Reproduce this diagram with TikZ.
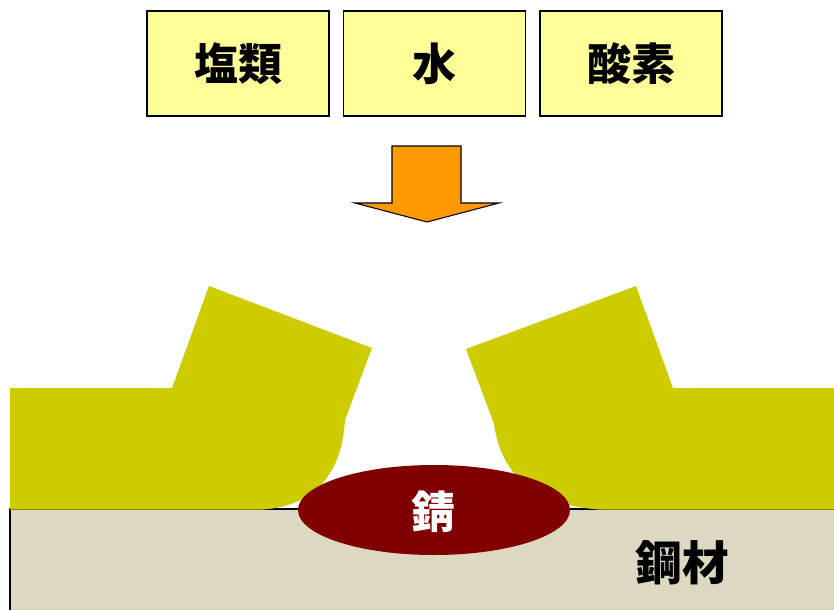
\documentclass[tikz,border=0pt]{standalone}
\usepackage{fontspec}
\newfontfamily\cjk{Noto Sans CJK JP}
\definecolor{boxfill}{HTML}{FFFF99}
\definecolor{arrowfill}{HTML}{FF9900}
\definecolor{coat}{HTML}{CCCC00}
\definecolor{steel}{HTML}{DDD8C2}
\definecolor{rust}{HTML}{800000}
\begin{document}
\begin{tikzpicture}[x=0.75pt,y=-0.75pt,
  factor/.style={draw=black,line width=0.9pt,fill=boxfill,minimum width=182*0.75pt,
    minimum height=105*0.75pt,inner sep=0pt,font=\cjk\bfseries\fontsize{33}{36}\selectfont},
  label/.style={inner sep=0pt,font=\cjk\bfseries\fontsize{33}{36}\selectfont}]
\useasboundingbox (0,0) rectangle (834,610);
% corrosion factors
\node[factor] (salt)   at (238,63.5) {塩類};
\node[factor] (water)  at (434.5,63.5) {水};
\node[factor] (oxygen) at (631,63.5) {酸素};
% block arrow
\draw[fill=arrowfill,line width=0.8pt,line join=miter]
  (392,146) -- (461,146) -- (461,203) -- (499,203) -- (427,222)
  -- (355,203) -- (392,203) -- cycle;
% steel base
\fill[steel] (10,509) rectangle (834,610);
\draw[line width=0.9pt] (10,610) -- (10,509) -- (834,509);
% coating, left part
\fill[coat] (10,388) -- (172,388) -- (209,286) -- (372,348) -- (345,420)
  .. controls (342,470) and (318,506) .. (262,509.6) -- (10,509.6) -- cycle;
% coating, right part
\fill[coat] (834,388) -- (673,388) -- (636,286) -- (466,349) -- (494,424)
  .. controls (500,470) and (530,505) .. (600,509.6) -- (834,509.6) -- cycle;
% rust under the coating
\fill[rust] (434,510) ellipse [x radius=136, y radius=45];
\node[label,text=white] (rustlabel) at (433.5,512) {錆};
\node[label,font=\cjk\bfseries\fontsize{35}{38}\selectfont] (steellabel) at (682,563) {鋼材};
\end{tikzpicture}
\end{document}
